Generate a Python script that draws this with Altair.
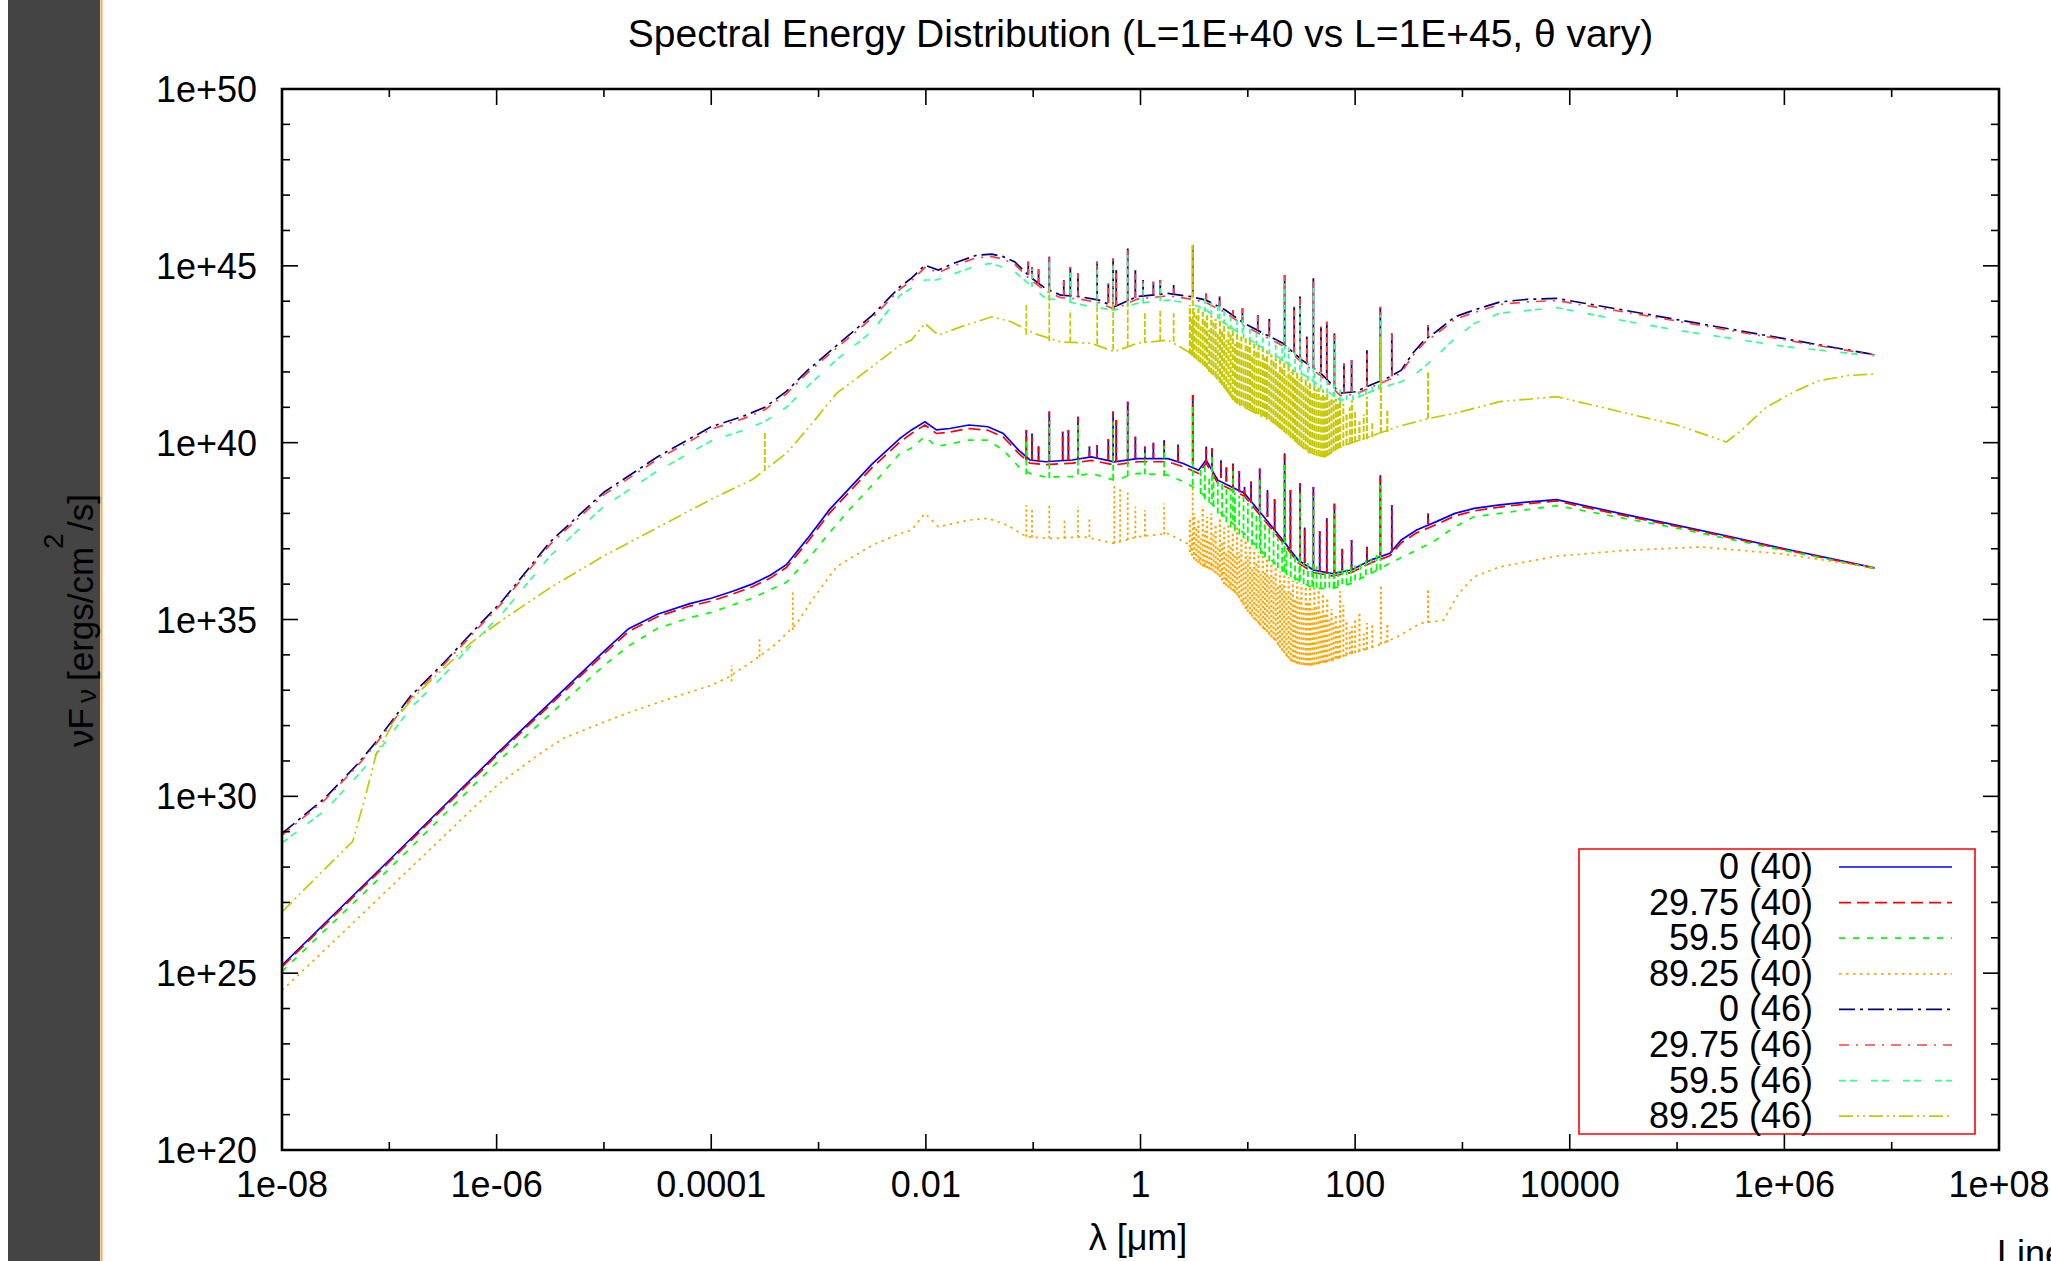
import altair as alt
import pandas as pd

# ---------------- data (log10 lambda [um], log10 nuFnu) ----------------
B40_x = [-8.0, -7.0, -6.0, -5.0, -4.77, -4.5, -4.2, -4.0, -3.8, -3.62, -3.45, -3.3, -3.1, -2.9, -2.7, -2.5, -2.241, -2.134, -2.009, -1.902, -1.777, -1.599, -1.421, -1.279, -1.136, -1.03, -0.886, -0.636, -0.458, -0.244, -0.03, 0.256, 0.398, 0.541, 0.611, 0.72, 0.968, 1.147, 1.325, 1.468, 1.61, 1.788, 1.967, 2.145, 2.324, 2.43, 2.573, 2.752, 2.93, 3.11, 3.35, 3.6, 3.877, 4.5, 5.0, 5.5, 6.0, 6.5, 6.84]
B40_y = [25.22, 28.2, 31.2, 34.1, 34.74, 35.15, 35.45, 35.6, 35.8, 36.0, 36.25, 36.55, 37.3, 38.1, 38.75, 39.4, 40.12, 40.36, 40.59, 40.36, 40.40, 40.50, 40.45, 40.26, 39.79, 39.51, 39.46, 39.51, 39.60, 39.46, 39.55, 39.55, 39.41, 39.22, 39.51, 38.94, 38.57, 37.91, 37.25, 36.68, 36.40, 36.30, 36.40, 36.68, 36.87, 37.25, 37.53, 37.76, 38.0, 38.14, 38.24, 38.32, 38.39, 37.98, 37.66, 37.34, 37.0, 36.68, 36.46]
R40_y = [25.18, 28.15, 31.15, 34.03, 34.66, 35.08, 35.38, 35.52, 35.72, 35.92, 36.17, 36.47, 37.2, 38.0, 38.65, 39.3, 40.02, 40.26, 40.5, 40.26, 40.3, 40.4, 40.35, 40.16, 39.7, 39.42, 39.38, 39.42, 39.5, 39.37, 39.46, 39.46, 39.32, 39.13, 39.42, 38.86, 38.49, 37.83, 37.18, 36.6, 36.33, 36.23, 36.33, 36.6, 36.8, 37.17, 37.45, 37.68, 37.93, 38.07, 38.18, 38.27, 38.35, 37.94, 37.63, 37.31, 36.98, 36.66, 36.45]
G40_x = [-8.0, -7.0, -6.0, -5.0, -4.77, -4.5, -4.2, -4.0, -3.62, -3.3, -3.1, -2.9, -2.7, -2.5, -2.241, -2.134, -2.009, -1.902, -1.599, -1.421, -1.279, -1.136, -1.03, -0.886, -0.636, -0.458, -0.244, -0.03, 0.256, 0.398, 0.541, 0.72, 0.968, 1.147, 1.325, 1.468, 1.61, 1.788, 1.967, 2.145, 2.324, 2.43, 2.573, 2.752, 2.93, 3.11, 3.35, 3.877, 5.0, 6.0, 6.84]
G40_y = [25.05, 27.95, 30.95, 33.7, 34.25, 34.75, 35.05, 35.2, 35.6, 36.05, 36.7, 37.45, 38.15, 38.8, 39.70, 39.85, 40.17, 39.89, 40.07, 40.07, 39.79, 39.32, 39.13, 39.03, 39.04, 39.13, 38.94, 39.13, 39.08, 38.90, 38.66, 38.09, 37.43, 36.87, 36.40, 36.12, 35.88, 35.88, 36.02, 36.30, 36.59, 36.75, 36.96, 37.25, 37.62, 37.91, 38.0, 38.22, 37.58, 36.95, 36.44]
O40_x = [-8.0, -7.5, -7.0, -6.5, -6.0, -5.6, -5.37, -5.0, -4.73, -4.4, -4.02, -3.85, -3.59, -3.4, -3.2, -3.06, -2.83, -2.5, -2.241, -2.134, -2.009, -1.884, -1.599, -1.421, -1.242, -1.064, -0.814, -0.529, -0.244, -0.03, 0.256, 0.434, 0.576, 0.72, 0.897, 1.076, 1.254, 1.397, 1.575, 1.753, 1.967, 2.181, 2.395, 2.61, 2.823, 2.966, 3.11, 3.35, 3.877, 4.5, 5.22, 6.0, 6.84]
O40_y = [24.51, 25.95, 27.4, 28.85, 30.3, 31.2, 31.65, 32.1, 32.41, 32.75, 33.12, 33.35, 33.87, 34.3, 34.9, 35.55, 36.5, 37.1, 37.43, 37.53, 38.0, 37.62, 37.81, 37.86, 37.67, 37.34, 37.29, 37.34, 37.15, 37.34, 37.43, 37.15, 36.59, 36.49, 35.74, 34.98, 34.42, 33.85, 33.71, 33.81, 34.04, 34.23, 34.51, 34.89, 34.98, 35.74, 36.21, 36.49, 36.79, 36.95, 37.05, 36.85, 36.46]
N46_x = [-8.0, -7.6, -7.3, -7.12, -6.8, -6.5, -6.23, -5.94, -5.5, -5.0, -4.5, -4.0, -3.7, -3.5, -3.3, -3.1, -2.83, -2.5, -2.34, -2.241, -2.134, -2.009, -1.884, -1.742, -1.528, -1.386, -1.279, -1.171, -1.03, -0.886, -0.743, -0.565, -0.386, -0.244, -0.03, 0.256, 0.47, 0.611, 0.79, 0.968, 1.147, 1.325, 1.503, 1.682, 1.861, 2.003, 2.145, 2.324, 2.43, 2.537, 2.645, 2.752, 2.93, 3.11, 3.35, 3.6, 3.877, 4.5, 5.0, 5.5, 6.0, 6.5, 6.84]
N46_y = [28.95, 29.95, 30.9, 31.55, 32.84, 33.75, 34.63, 35.55, 37.2, 38.6, 39.6, 40.45, 40.75, 41.0, 41.45, 42.05, 42.75, 43.6, 44.1, 44.41, 44.65, 45.02, 44.88, 45.07, 45.30, 45.33, 45.26, 45.11, 44.69, 44.36, 44.17, 44.13, 44.03, 43.84, 44.13, 44.22, 44.13, 44.03, 43.75, 43.37, 43.09, 42.81, 42.34, 41.96, 41.40, 41.44, 41.63, 41.86, 42.05, 42.53, 42.9, 43.13, 43.56, 43.75, 43.98, 44.05, 44.08, 43.75, 43.48, 43.21, 42.94, 42.67, 42.49]
R46_y = [28.9, 29.9, 30.85, 31.5, 32.78, 33.7, 34.57, 35.5, 37.13, 38.53, 39.53, 40.38, 40.68, 40.93, 41.38, 41.98, 42.68, 43.53, 44.03, 44.34, 44.58, 44.95, 44.81, 45.0, 45.23, 45.26, 45.19, 45.04, 44.62, 44.29, 44.1, 44.06, 43.96, 43.77, 44.06, 44.15, 44.06, 43.96, 43.68, 43.3, 43.02, 42.74, 42.27, 41.89, 41.33, 41.37, 41.56, 41.79, 41.98, 42.46, 42.83, 43.06, 43.49, 43.68, 43.91, 43.98, 44.02, 43.7, 43.44, 43.17, 42.91, 42.65, 42.48]
C46_x = [-8.0, -7.6, -7.3, -7.12, -6.8, -6.5, -6.23, -5.94, -5.5, -5.0, -4.5, -4.0, -3.7, -3.5, -3.3, -3.1, -2.83, -2.5, -2.241, -2.009, -1.902, -1.528, -1.386, -1.171, -1.03, -0.886, -0.743, -0.458, -0.244, -0.03, 0.256, 0.47, 0.611, 0.79, 0.969, 1.147, 1.325, 1.503, 1.682, 1.861, 2.003, 2.145, 2.324, 2.43, 2.573, 2.752, 2.93, 3.11, 3.35, 3.877, 4.5, 5.0, 6.0, 6.84]
C46_y = [28.68, 29.6, 30.57, 31.2, 32.5, 33.4, 34.3, 35.2, 36.8, 38.2, 39.2, 40.05, 40.35, 40.6, 41.0, 41.6, 42.35, 43.15, 44.17, 44.6, 44.6, 45.0, 45.07, 44.83, 44.46, 44.08, 44.03, 43.84, 43.75, 43.94, 44.03, 43.94, 43.75, 43.37, 43.0, 42.67, 42.34, 41.96, 41.58, 41.2, 41.25, 41.44, 41.63, 41.72, 41.96, 42.43, 42.95, 43.37, 43.66, 43.82, 43.45, 43.18, 42.72, 42.45]
Y46_x = [-8.0, -7.6, -7.34, -7.23, -7.12, -6.94, -6.76, -6.5, -6.23, -5.94, -5.5, -5.0, -4.5, -4.0, -3.62, -3.3, -3.1, -2.83, -2.5, -2.241, -2.134, -2.009, -1.884, -1.67, -1.386, -1.206, -0.992, -0.743, -0.458, -0.244, -0.03, 0.256, 0.47, 0.611, 0.754, 0.897, 1.076, 1.254, 1.432, 1.575, 1.717, 1.861, 2.039, 2.217, 2.395, 2.681, 2.93, 3.35, 3.877, 4.3, 4.6, 5.0, 5.46, 5.6, 5.83, 6.1, 6.32, 6.6, 6.84]
Y46_y = [26.73, 27.95, 28.73, 29.92, 31.22, 32.2, 32.84, 33.6, 34.36, 35.0, 35.9, 36.8, 37.6, 38.4, 38.95, 39.7, 40.4, 41.4, 42.15, 42.76, 42.90, 43.37, 43.04, 43.28, 43.56, 43.42, 43.09, 42.85, 42.81, 42.57, 42.81, 42.90, 42.53, 42.15, 41.68, 41.11, 40.83, 40.55, 40.07, 39.70, 39.60, 39.88, 40.07, 40.26, 40.45, 40.68, 40.83, 41.16, 41.3, 41.0, 40.78, 40.5, 40.02, 40.35, 41.0, 41.45, 41.75, 41.9, 41.94]

# emission lines of the L=1E+40 group (blue / red / green)
LO_SPK_x = [-1.064, -1.011, -0.95, -0.850, -0.725, -0.672, -0.583, -0.476, -0.404, -0.30, -0.255, -0.226, -0.119, -0.048, 0.041, 0.12, 0.220, 0.35, 0.487, 0.612, 0.666, 0.75, 0.80, 0.862, 0.92, 0.969, 1.03, 1.111, 1.183, 1.25, 1.343, 1.397, 1.486, 1.53, 1.611, 1.67, 1.736, 1.807, 1.88, 1.967, 2.110, 2.235, 2.342, 2.680]
LO_SPK_lo = [39.5, 39.5, 39.45, 39.45, 39.5, 39.5, 39.55, 39.6, 39.55, 39.5, 39.45, 39.45, 39.5, 39.55, 39.55, 39.55, 39.55, 39.45, 39.4, 39.4, 39.2, 39.0, 38.9, 38.7, 38.6, 38.5, 38.3, 38.1, 37.9, 37.5, 37.2, 37.0, 36.7, 36.6, 36.4, 36.35, 36.3, 36.3, 36.3, 36.4, 36.6, 36.8, 36.9, 37.7]
LO_SPK_hi = [40.36, 40.26, 39.9, 40.88, 40.31, 40.36, 40.73, 39.89, 39.93, 40.1, 40.88, 40.64, 41.16, 40.17, 39.89, 40.0, 40.07, 39.95, 41.35, 39.89, 39.84, 39.5, 39.3, 39.41, 39.2, 38.75, 38.9, 39.27, 38.66, 38.4, 39.70, 38.66, 38.85, 37.6, 38.75, 37.5, 37.86, 38.28, 37.0, 37.25, 37.06, 39.08, 38.24, 38.0]
G_SPK_x = [-1.064, -0.85, -0.583, -0.255, -0.119, 0.041, 0.22, 0.487, 0.666, 0.862, 1.111, 1.343, 1.486, 1.611, 1.807, 2.235]
G_SPK_lo = [39.1, 39.0, 39.1, 38.95, 39.05, 39.1, 39.05, 38.8, 38.4, 37.8, 37.0, 36.4, 36.1, 35.9, 35.9, 36.4]
G_SPK_hi = [40.1, 40.6, 40.5, 40.6, 40.9, 39.7, 39.9, 41.1, 39.6, 39.2, 39.0, 39.4, 38.6, 38.5, 38.0, 38.8]
# emission lines of the L=1E+45 group (navy / red / aquamarine)
UP_SPK_x = [-1.046, -1.011, -0.95, -0.850, -0.715, -0.654, -0.583, -0.404, -0.30, -0.255, -0.226, -0.119, -0.048, 0.024, 0.12, 0.184, 0.309, 0.487, 0.612, 0.737, 0.862, 0.95, 1.093, 1.20, 1.343, 1.432, 1.486, 1.55, 1.611, 1.682, 1.736, 1.807, 1.896, 1.967, 2.110, 2.235, 2.342, 2.680]
UP_SPK_lo = [44.75, 44.65, 44.5, 44.3, 44.16, 44.15, 44.13, 44.03, 43.95, 43.86, 43.86, 44.0, 44.1, 44.15, 44.2, 44.2, 44.2, 44.12, 44.03, 43.85, 43.6, 43.4, 43.17, 43.0, 42.78, 42.55, 42.38, 42.25, 42.1, 41.96, 41.8, 41.6, 41.4, 41.43, 41.58, 41.75, 41.88, 43.0]
UP_SPK_hi = [45.12, 44.97, 44.9, 45.26, 44.60, 44.97, 44.79, 45.12, 44.5, 45.21, 44.88, 45.49, 44.88, 44.60, 44.55, 44.60, 44.46, 45.59, 44.22, 44.13, 43.75, 43.8, 43.61, 43.5, 44.74, 43.84, 44.13, 43.0, 44.65, 43.28, 43.42, 43.09, 42.24, 42.34, 42.62, 43.84, 43.09, 43.33]
C_SPK_x = [-1.011, -0.85, -0.654, -0.404, -0.255, -0.119, 0.024, 0.184, 0.487, 0.737, 0.95, 1.343, 1.486, 1.611, 1.807, 2.235]
C_SPK_lo = [44.4, 44.05, 43.98, 43.84, 43.75, 43.85, 43.96, 44.0, 43.9, 43.5, 43.1, 42.4, 42.05, 41.75, 41.3, 41.5]
C_SPK_hi = [44.9, 45.1, 44.8, 45.0, 45.0, 45.3, 44.5, 44.5, 45.4, 43.9, 43.6, 44.5, 43.9, 44.4, 42.9, 43.6]
# line forests
GF_x = [0.56, 0.60, 0.64, 0.68, 0.72, 0.76, 0.80, 0.84, 0.88, 0.92, 0.96, 1.00, 1.04, 1.08, 1.12, 1.16, 1.20, 1.24, 1.28, 1.32, 1.36, 1.40, 1.44, 1.48, 1.52, 1.56, 1.60, 1.64, 1.68, 1.72, 1.76, 1.80, 1.84, 1.88, 1.92, 1.96, 2.00, 2.05, 2.10, 2.15, 2.20]
GF_lo = [38.55, 38.4, 38.3, 38.2, 38.0, 37.9, 37.75, 37.6, 37.5, 37.4, 37.3, 37.2, 37.1, 37.0, 36.85, 36.75, 36.65, 36.55, 36.45, 36.35, 36.25, 36.2, 36.1, 36.05, 36.0, 35.95, 35.95, 35.9, 35.9, 35.9, 35.9, 35.9, 35.95, 36.0, 36.0, 36.05, 36.1, 36.15, 36.25, 36.3, 36.4]
GF_hi = [39.3, 39.4, 39.0, 39.1, 38.9, 38.9, 38.7, 38.7, 38.6, 38.5, 38.5, 38.3, 38.2, 38.0, 37.9, 37.8, 37.6, 37.5, 37.3, 37.2, 37.0, 37.0, 36.8, 36.8, 36.6, 36.6, 36.5, 36.5, 36.4, 36.4, 36.4, 36.4, 36.4, 36.4, 36.45, 36.5, 36.55, 36.6, 36.7, 36.8, 36.85]
CF_x = [0.60, 0.66, 0.72, 0.78, 0.84, 0.90, 0.96, 1.02, 1.08, 1.14, 1.20, 1.26, 1.32, 1.38, 1.44, 1.50, 1.56, 1.62, 1.68, 1.74, 1.80, 1.86, 1.92, 1.98, 2.04, 2.10, 2.16, 2.22]
CF_lo = [43.7, 43.6, 43.5, 43.35, 43.2, 43.1, 42.95, 42.85, 42.75, 42.6, 42.5, 42.4, 42.3, 42.15, 42.0, 41.9, 41.75, 41.6, 41.5, 41.4, 41.3, 41.15, 41.2, 41.2, 41.3, 41.35, 41.45, 41.5]
CF_hi = [44.1, 44.0, 43.95, 43.8, 43.65, 43.5, 43.4, 43.3, 43.2, 43.1, 43.0, 42.9, 42.8, 42.7, 42.55, 42.4, 42.25, 42.1, 42.0, 41.8, 41.6, 41.5, 41.45, 41.45, 41.5, 41.6, 41.65, 41.7]
OF_x = [0.46, 0.50, 0.54, 0.58, 0.62, 0.66, 0.70, 0.74, 0.78, 0.82, 0.86, 0.90, 0.94, 0.98, 1.02, 1.06, 1.10, 1.14, 1.18, 1.22, 1.26, 1.30, 1.34, 1.38, 1.42, 1.46, 1.50, 1.54, 1.58, 1.62, 1.66, 1.70, 1.74, 1.78, 1.82, 1.86, 1.92, 1.97, 2.04, 2.11, 2.24, 2.30, 2.68]
OF_lo = [36.9, 36.7, 36.6, 36.5, 36.45, 36.4, 36.3, 36.2, 36.0, 35.9, 35.8, 35.7, 35.5, 35.3, 35.15, 35.0, 34.9, 34.75, 34.65, 34.5, 34.4, 34.2, 34.05, 33.9, 33.8, 33.75, 33.72, 33.7, 33.7, 33.72, 33.75, 33.78, 33.8, 33.85, 33.9, 33.92, 34.0, 34.05, 34.1, 34.15, 34.3, 34.35, 34.9]
OF_hi = [37.9, 38.0, 37.8, 38.2, 37.9, 38.0, 37.7, 37.9, 37.6, 37.7, 37.5, 37.6, 37.3, 37.3, 37.1, 37.0, 36.9, 36.8, 36.7, 36.6, 36.5, 36.35, 36.3, 36.2, 36.1, 36.05, 36.0, 35.95, 35.9, 35.9, 35.85, 35.7, 35.6, 35.3, 35.1, 35.8, 35.0, 34.8, 35.2, 34.9, 36.0, 34.9, 35.9]
F2_x = [0.48, 0.52, 0.56, 0.60, 0.64, 0.68, 0.72, 0.76, 0.80, 0.84, 0.88, 0.92, 0.96, 1.00, 1.04, 1.08, 1.12, 1.16, 1.20, 1.24, 1.28, 1.32, 1.36, 1.40, 1.44, 1.48, 1.52, 1.56, 1.60, 1.64, 1.68, 1.72, 1.76, 1.80, 1.84, 1.89, 1.95, 2.00, 2.08, 2.16]
OF2_lo = [36.8, 36.65, 36.55, 36.48, 36.42, 36.35, 36.25, 36.1, 35.95, 35.85, 35.75, 35.6, 35.4, 35.22, 35.08, 34.95, 34.82, 34.7, 34.58, 34.45, 34.3, 34.12, 33.98, 33.85, 33.78, 33.73, 33.71, 33.7, 33.71, 33.73, 33.76, 33.79, 33.82, 33.87, 33.9, 33.95, 34.02, 34.05, 34.12, 34.2]
OF2_hi = [37.4, 37.6, 37.3, 37.5, 37.2, 37.4, 37.1, 37.2, 36.9, 37.1, 36.8, 36.9, 36.6, 36.8, 36.5, 36.6, 36.3, 36.4, 36.2, 36.2, 36.0, 36.0, 35.8, 35.8, 35.6, 35.6, 35.4, 35.5, 35.3, 35.4, 35.2, 35.2, 35.0, 34.9, 34.8, 35.4, 34.7, 35.0, 34.6, 34.9]
OS_x = [-3.81, -3.55, -3.24, -1.064, -1.011, -0.850, -0.708, -0.583, -0.476, -0.244, -0.19, -0.119, -0.048, 0.041, 0.220, 0.487]
OS_lo = [33.25, 33.95, 34.7, 37.34, 37.32, 37.3, 37.3, 37.32, 37.33, 37.15, 37.2, 37.25, 37.3, 37.35, 37.4, 37.1]
OS_hi = [33.7, 34.5, 35.8, 38.24, 38.14, 38.28, 37.81, 38.19, 37.9, 38.85, 38.75, 38.66, 38.19, 38.09, 38.28, 38.75]
YF_x = OF_x
YF_lo = [42.5, 42.4, 42.3, 42.2, 42.1, 41.95, 41.85, 41.7, 41.55, 41.4, 41.2, 41.1, 41.05, 41.0, 40.95, 40.85, 40.8, 40.75, 40.7, 40.6, 40.5, 40.4, 40.3, 40.2, 40.1, 40.0, 39.9, 39.8, 39.7, 39.65, 39.62, 39.6, 39.62, 39.7, 39.8, 39.85, 39.95, 40.0, 40.05, 40.1, 40.27, 40.3, 40.68]
YF_hi = [43.9, 43.8, 43.8, 43.7, 43.6, 43.6, 43.5, 43.45, 43.35, 43.3, 43.2, 43.1, 43.0, 42.95, 42.9, 42.8, 42.75, 42.65, 42.6, 42.5, 42.4, 42.35, 42.25, 42.2, 42.1, 42.0, 41.9, 41.8, 41.7, 41.6, 41.55, 41.5, 41.4, 41.3, 41.25, 41.2, 40.8, 41.2, 40.6, 41.3, 43.0, 40.9, 42.0]
YF2_lo = [42.45, 42.35, 42.25, 42.15, 42.0, 41.9, 41.78, 41.62, 41.48, 41.3, 41.15, 41.08, 41.02, 40.98, 40.9, 40.82, 40.78, 40.72, 40.65, 40.55, 40.45, 40.35, 40.25, 40.15, 40.05, 39.95, 39.85, 39.75, 39.68, 39.63, 39.61, 39.61, 39.66, 39.75, 39.82, 39.9, 39.98, 40.02, 40.08, 40.15]
YF2_hi = [43.5, 43.6, 43.3, 43.5, 43.2, 43.4, 43.1, 43.2, 42.9, 43.1, 42.8, 42.9, 42.6, 42.8, 42.5, 42.6, 42.3, 42.4, 42.2, 42.3, 42.0, 42.1, 41.9, 42.0, 41.8, 41.8, 41.6, 41.6, 41.4, 41.5, 41.3, 41.3, 41.2, 41.2, 41.1, 41.1, 41.0, 40.9, 40.8, 40.6]
YS_x = [-3.5, -1.064, -0.85, -0.654, -0.404, -0.255, -0.119, 0.041, 0.184, 0.309, 0.487]
YS_lo = [39.2, 43.05, 42.87, 42.83, 42.78, 42.62, 42.7, 42.82, 42.88, 42.85, 42.5]
YS_hi = [40.3, 43.94, 44.32, 43.75, 43.84, 44.03, 43.94, 43.66, 43.75, 43.66, 45.59]

LEG_LABELS = ["0 (40)", "29.75 (40)", "59.5 (40)", "89.25 (40)", "0 (46)", "29.75 (46)", "59.5 (46)", "89.25 (46)"]
COLORS = ["#0000ff", "#ff0000", "#00ff00", "#ffa500", "#000080", "#ff4040", "#33ff99", "#c8c800"]
DASHES = [None, [12, 6], [6, 8], [2.5, 4.5], [16, 5, 3, 5], [10, 7, 2, 7], [7, 4, 7, 14], [14, 4, 2, 4, 2, 4]]

X_TICKS = [-8, -6, -4, -2, 0, 2, 4, 6, 8]
X_LABELS = ["1e-08", "1e-06", "0.0001", "0.01", "1", "100", "10000", "1e+06", "1e+08"]
Y_TICKS = [20, 25, 30, 35, 40, 45, 50]
Y_LABELS = ["1e+20", "1e+25", "1e+30", "1e+35", "1e+40", "1e+45", "1e+50"]
X_MINOR = [-7, -5, -3, -1, 1, 3, 5, 7]
Y_MINOR = [21, 22, 23, 24, 26, 27, 28, 29, 31, 32, 33, 34, 36, 37, 38, 39, 41, 42, 43, 44, 46, 47, 48, 49]
X_MAJOR_IN = [-6, -4, -2, 0, 2, 4, 6]
Y_MAJOR_IN = [25, 30, 35, 40, 45]

# ---------------- layout ----------------
W, H = 1717, 1061
FONT = "Liberation Sans"
xs = alt.Scale(domain=[-8, 8], nice=False, zero=False)
ys = alt.Scale(domain=[20, 50], nice=False, zero=False)
ONE = pd.DataFrame({"a": [0]})


def line_layer(xv, yv, color, dash, width=1.7):
    kw = dict(color=color, strokeWidth=width, strokeCap="butt")
    if dash:
        kw["strokeDash"] = dash
    return alt.Chart(pd.DataFrame({"x": xv, "y": yv})).mark_line(**kw).encode(
        x=alt.X("x:Q", scale=xs, axis=None), y=alt.Y("y:Q", scale=ys, axis=None))


def rule_layer(xv, lo, hi, color, dash, width=1.8):
    kw = dict(color=color, strokeWidth=width, strokeCap="butt")
    if dash:
        kw["strokeDash"] = dash
    return alt.Chart(pd.DataFrame({"x": xv, "lo": lo, "hi": hi})).mark_rule(**kw).encode(
        x=alt.X("x:Q", scale=xs, axis=None), y=alt.Y("lo:Q", scale=ys, axis=None), y2="hi:Q")


def text_layer(txt, x, y, size=36, align="left", angle=0, color="black"):
    kw = dict(font=FONT, fontSize=size, align=align, baseline="alphabetic", color=color, text=txt)
    if angle:
        kw["angle"] = angle
    return alt.Chart(ONE).mark_text(**kw).encode(x=alt.value(x), y=alt.value(y))


def tick_layer(vals, side, length):
    c = alt.Chart(pd.DataFrame({"v": vals})).mark_rule(color="black", strokeWidth=1.6)
    if side == "bottom":
        return c.encode(x=alt.X("v:Q", scale=xs, axis=None), y=alt.value(H), y2=alt.value(H - length))
    if side == "top":
        return c.encode(x=alt.X("v:Q", scale=xs, axis=None), y=alt.value(0), y2=alt.value(length))
    if side == "left":
        return c.encode(y=alt.Y("v:Q", scale=ys, axis=None), x=alt.value(0), x2=alt.value(length))
    return c.encode(y=alt.Y("v:Q", scale=ys, axis=None), x=alt.value(W), x2=alt.value(W - length))


layers = []
# dark side bar and its orange edge
layers.append(alt.Chart(ONE).mark_rect(color="#444444").encode(
    x=alt.value(-274), x2=alt.value(-182), y=alt.value(-89), y2=alt.value(1172)))
layers.append(alt.Chart(ONE).mark_rule(color="#f5a742", strokeWidth=2).encode(
    x=alt.value(-180.5), y=alt.value(-89), y2=alt.value(1172)))

# series (drawn in gnuplot order)
layers.append(line_layer(B40_x, B40_y, COLORS[0], DASHES[0]))
layers.append(rule_layer(LO_SPK_x, LO_SPK_lo, LO_SPK_hi, COLORS[0], None))
layers.append(line_layer(B40_x, R40_y, COLORS[1], DASHES[1]))
layers.append(rule_layer(LO_SPK_x, LO_SPK_lo, LO_SPK_hi, COLORS[1], [6, 3]))
layers.append(line_layer(G40_x, G40_y, COLORS[2], DASHES[2]))
layers.append(rule_layer(GF_x, GF_lo, GF_hi, COLORS[2], [6, 3]))
layers.append(rule_layer(G_SPK_x, G_SPK_lo, G_SPK_hi, COLORS[2], [6, 3]))
layers.append(line_layer(O40_x, O40_y, COLORS[3], DASHES[3]))
layers.append(rule_layer(OF_x, OF_lo, OF_hi, COLORS[3], [2.5, 2.5], 2.2))
layers.append(rule_layer(F2_x, OF2_lo, OF2_hi, COLORS[3], [2.5, 2.5], 2.0))
layers.append(rule_layer(OS_x, OS_lo, OS_hi, COLORS[3], [2.5, 2.5]))
layers.append(line_layer(N46_x, N46_y, COLORS[4], DASHES[4]))
layers.append(rule_layer(UP_SPK_x, UP_SPK_lo, UP_SPK_hi, COLORS[4], None))
layers.append(line_layer(N46_x, R46_y, COLORS[5], DASHES[5]))
layers.append(rule_layer(UP_SPK_x, UP_SPK_lo, UP_SPK_hi, COLORS[5], [6, 3]))
layers.append(line_layer(C46_x, C46_y, COLORS[6], DASHES[6]))
layers.append(rule_layer(CF_x, CF_lo, CF_hi, COLORS[6], [5, 3]))
layers.append(rule_layer(C_SPK_x, C_SPK_lo, C_SPK_hi, COLORS[6], [5, 3]))
layers.append(line_layer(Y46_x, Y46_y, COLORS[7], DASHES[7]))
layers.append(rule_layer(YF_x, YF_lo, YF_hi, COLORS[7], [6, 2], 2.2))
layers.append(rule_layer(F2_x, YF2_lo, YF2_hi, COLORS[7], [6, 2], 2.0))
layers.append(rule_layer(YS_x, YS_lo, YS_hi, COLORS[7], [6, 2]))

# frame and inward ticks on all four sides
layers.append(alt.Chart(ONE).mark_rect(fillOpacity=0, stroke="black", strokeWidth=2.6).encode(
    x=alt.value(0), x2=alt.value(W), y=alt.value(0), y2=alt.value(H)))
for side in ("bottom", "top"):
    layers.append(tick_layer(X_MAJOR_IN, side, 16))
    layers.append(tick_layer(X_MINOR, side, 8))
for side in ("left", "right"):
    layers.append(tick_layer(Y_MAJOR_IN, side, 16))
    layers.append(tick_layer(Y_MINOR, side, 8))

# tick labels
layers.append(alt.Chart(pd.DataFrame({"v": X_TICKS, "lab": X_LABELS})).mark_text(
    font=FONT, fontSize=36, align="center", baseline="alphabetic", color="black").encode(
    x=alt.X("v:Q", scale=xs, axis=None), y=alt.value(1108), text="lab:N"))
layers.append(alt.Chart(pd.DataFrame({"v": Y_TICKS, "lab": Y_LABELS})).mark_text(
    font=FONT, fontSize=36, align="right", baseline="alphabetic", dy=13, color="black").encode(
    y=alt.Y("v:Q", scale=ys, axis=None), x=alt.value(-25), text="lab:N"))

# titles
layers.append(text_layer("Spectral Energy Distribution (L=1E+40 vs L=1E+45, \u03b8 vary)", W / 2, -42, 39, "center"))
layers.append(text_layer("\u03bb [\u03bcm]", 856, 1161, 36, "center"))
layers.append(text_layer("\u03bdF", -189, 658, 35, "left", 270))
layers.append(text_layer("\u03bd", -186, 614, 28, "left", 270))
layers.append(text_layer("[ergs/cm", -189, 592, 35, "left", 270))
layers.append(text_layer("2", -219, 460, 28, "left", 270))
layers.append(text_layer("/s]", -189, 442, 35, "left", 270))
layers.append(text_layer("Line", 1715, 1177, 36, "left"))

# legend
layers.append(alt.Chart(ONE).mark_rect(fillOpacity=0, stroke="#ff0000", strokeWidth=1.6).encode(
    x=alt.value(1297), x2=alt.value(1693), y=alt.value(760), y2=alt.value(1045)))
for i, lab in enumerate(LEG_LABELS):
    yc = 778 + 35.6 * i
    layers.append(text_layer(lab, 1531, yc + 12, 36, "right"))
    kw = dict(color=COLORS[i], strokeWidth=1.7, strokeCap="butt")
    if DASHES[i]:
        kw["strokeDash"] = DASHES[i]
    layers.append(alt.Chart(ONE).mark_rule(**kw).encode(
        x=alt.value(1557), x2=alt.value(1670), y=alt.value(yc)))

chart = alt.layer(*layers).properties(
    width=W, height=H,
    padding={"left": 282, "top": 89, "right": 52, "bottom": 111},
    autosize=alt.AutoSizeParams(type="none"),
    background="white",
).configure_view(stroke=None)

chart.save("out.html", embed_options={"renderer": "svg", "actions": False})
